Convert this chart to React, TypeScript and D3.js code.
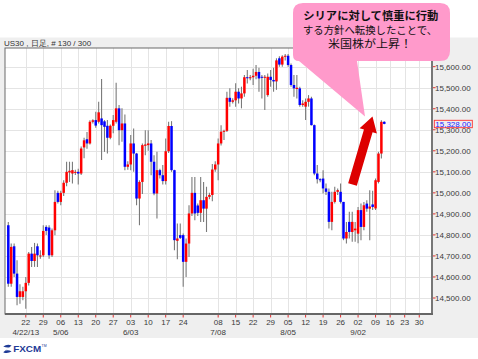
import React from 'react';
import * as d3 from 'd3';

// ---- data (US30 daily, 130 bars) ----
const opens = [
  14846, 14568, 14746, 14616, 14505, 14505, 14532, 14572, 14711, 14676,
  14746, 14700, 14703, 14838, 14835, 14703, 14822, 15000, 14957, 15000,
  15048, 15097, 15092, 15095, 15100, 15092, 15216, 15255, 15235, 15338,
  15346, 15338, 15354, 15340, 15319, 15262, 15319, 15338, 15402, 15298,
  15330, 15124, 15135, 15235, 15187, 14973, 15052, 15224, 15227, 15235,
  15148, 14997, 15108, 15084, 15056, 15198, 15318, 15108, 14772, 14799,
  14799, 14672, 14759, 14902, 15000, 14940, 14905, 14965, 14925, 14981,
  14990, 15111, 15135, 15235, 15291, 15295, 15452, 15433, 15440, 15481,
  15449, 15473, 15550, 15545, 15550, 15557, 15575, 15552, 15548, 15465,
  15552, 15537, 15530, 15640, 15610, 15648, 15652, 15608, 15513, 15494,
  15497, 15418, 15410, 15433, 15449, 15322, 15092, 15065, 15068, 15021,
  15005, 14862, 14957, 15005, 15005, 14957, 14783, 14862, 14814, 14822,
  14806, 14918, 14838, 14949, 14925, 14945, 14926, 15052, 15187, 15338,
];
const highs = [
  14862, 14759, 14759, 14680, 14565, 14553, 14600, 14719, 14743, 14762,
  14759, 14727, 14846, 14846, 14846, 14830, 15013, 15010, 15010, 15060,
  15148, 15148, 15148, 15110, 15115, 15220, 15262, 15290, 15345, 15350,
  15386, 15433, 15541, 15346, 15346, 15325, 15370, 15524, 15418, 15402,
  15373, 15150, 15275, 15306, 15190, 15060, 15235, 15298, 15298, 15251,
  15179, 15195, 15115, 15132, 15259, 15338, 15341, 15110, 14854, 14854,
  14807, 14783, 14941, 15076, 15076, 14950, 15076, 15052, 15029, 15000,
  15137, 15150, 15259, 15322, 15300, 15481, 15497, 15450, 15521, 15497,
  15505, 15560, 15584, 15560, 15590, 15608, 15595, 15560, 15560, 15568,
  15584, 15595, 15640, 15650, 15655, 15660, 15660, 15615, 15560, 15560,
  15505, 15440, 15449, 15465, 15457, 15325, 15132, 15070, 15108, 15045,
  15021, 15005, 15029, 15021, 15045, 14957, 14862, 14910, 14910, 14862,
  14933, 14949, 14957, 14965, 15013, 15010, 15068, 15195, 15345, 15340,
];
const lows = [
  14553, 14553, 14600, 14465, 14473, 14489, 14449, 14560, 14648, 14648,
  14648, 14687, 14695, 14800, 14687, 14695, 14798, 14949, 14941, 14985,
  15032, 15052, 15044, 15085, 15040, 15085, 15165, 15210, 15230, 15330,
  15310, 15330, 15156, 15195, 15187, 15255, 15283, 15330, 15227, 15243,
  15108, 15110, 15108, 15100, 14941, 14846, 14995, 15179, 15200, 15084,
  14989, 14878, 15068, 15040, 15040, 15190, 15100, 14727, 14684, 14780,
  14553, 14600, 14695, 14890, 14870, 14890, 14862, 14862, 14814, 14970,
  14960, 15100, 15060, 15225, 15251, 15290, 15410, 15425, 15410, 15425,
  15402, 15457, 15520, 15535, 15513, 15540, 15481, 15449, 15394, 15457,
  15505, 15481, 15490, 15600, 15600, 15630, 15600, 15505, 15457, 15449,
  15410, 15410, 15346, 15410, 15320, 15084, 15045, 15050, 14997, 14990,
  14830, 14822, 14949, 14990, 14949, 14775, 14759, 14783, 14767, 14767,
  14760, 14775, 14822, 14910, 14775, 14918, 14918, 15045, 15164, 15326,
];
const closes = [
  14568, 14743, 14616, 14505, 14532, 14532, 14572, 14711, 14676, 14711,
  14703, 14702, 14819, 14819, 14703, 14822, 14957, 14957, 15000, 15048,
  15100, 15105, 15108, 15100, 15092, 15211, 15250, 15235, 15338, 15345,
  15320, 15383, 15322, 15314, 15262, 15319, 15346, 15402, 15298, 15330,
  15124, 15135, 15235, 15187, 14973, 15052, 15227, 15230, 15235, 15148,
  14997, 15108, 15084, 15056, 15198, 15318, 15108, 14775, 14783, 14786,
  14672, 14759, 14902, 15000, 14902, 14905, 14965, 14925, 14981, 14990,
  15111, 15135, 15235, 15291, 15295, 15452, 15433, 15440, 15481, 15449,
  15473, 15550, 15545, 15550, 15557, 15575, 15544, 15548, 15552, 15552,
  15537, 15530, 15630, 15610, 15648, 15652, 15608, 15513, 15497, 15500,
  15418, 15425, 15433, 15449, 15322, 15092, 15065, 15060, 15021, 15005,
  14862, 14957, 15005, 15013, 14957, 14783, 14814, 14814, 14862, 14830,
  14918, 14838, 14941, 14925, 14935, 14933, 15060, 15187, 15338, 15328,
];

const priceTicks = [15600, 15500, 15400, 15300, 15200, 15100, 15000, 14900, 14800, 14700, 14600, 14500];
const dayTickBars = [6, 12, 18, 24, 30, 36, 42, 48, 54, 60, 72, 78, 84, 90, 96, 102, 108, 114, 120, 126, 131, 136, 141];
const dayTickLabels = ['22', '29', '06', '13', '20', '27', '03', '10', '17', '24', '08', '15', '22', '29', '05', '12', '19', '26', '02', '09', '16', '23', '30'];
const monthBars = [6, 18, 42, 72, 96, 120];
const monthLabels = ['4/22/13', '5/06', '6/03', '7/08', '8/05', '9/02'];
const lastPrice = 15328;

const headerText = 'US30 , 日足, # 130 / 300';
const calloutLines = ['シリアに対して慎重に行動', 'する方針へ転換したことで、', '米国株が上昇！'];

const AX = '"Liberation Sans", Arial, sans-serif';
const JP = '"Noto Sans CJK JP", "Noto Sans CJK SC", sans-serif';

export default function App() {
  const W = 478, H = 359;
  const L = 5, R = 432, T = 48, B = 314;

  const x = d3.scaleLinear().domain([0, 129]).range([8.3, 384.3]);
  const y = d3.scaleLinear().domain([14500, 15600]).range([298, 66.7]);
  const fmt = d3.format(',.2f');
  const bodyW = 2.5;

  const bars = d3.range(opens.length).map((i) => ({
    i, o: opens[i], h: highs[i], l: lows[i], c: closes[i],
  }));

  // arrow geometry
  const aB: [number, number] = [352.5, 184.5];
  const aT: [number, number] = [372.5, 116.5];
  const dx = aT[0] - aB[0], dy = aT[1] - aB[1];
  const len = Math.hypot(dx, dy);
  const ux = dx / len, uy = dy / len;
  const nx = -uy, ny = ux;
  const headLen = 15, headHW = 9, shaftHW = 4.5;
  const hb = [aT[0] - ux * headLen, aT[1] - uy * headLen];
  const arrowPts = [
    [aB[0] + nx * shaftHW, aB[1] + ny * shaftHW],
    [hb[0] + nx * shaftHW, hb[1] + ny * shaftHW],
    [hb[0] + nx * headHW, hb[1] + ny * headHW],
    aT,
    [hb[0] - nx * headHW, hb[1] - ny * headHW],
    [hb[0] - nx * shaftHW, hb[1] - ny * shaftHW],
    [aB[0] - nx * shaftHW, aB[1] - ny * shaftHW],
  ].map((p) => p.join(',')).join(' ');

  const calloutPath =
    'M303,3 H440 Q450,3 450,13 V51 Q450,61 440,61 H357 L365,116.5 L299,61 Q293,61 293,55 V13 Q293,3 303,3 Z';

  return (
    <svg width={W} height={H} style={{ position: 'absolute', left: 0, top: 0, background: '#ffffff' }}>
      <defs>
        <clipPath id="plotClip">
          <rect x={L} y={T} width={R - L} height={B - T} />
        </clipPath>
      </defs>
      <rect x={0} y={0} width={W} height={H} fill="#ffffff" />
      <rect x={0} y={37.5} width={W} height={300.5} fill="#efefef" />
      <text x={4} y={45.6} fontFamily={AX} fontSize={8} fill="#333">{headerText}</text>

      <rect x={L} y={T} width={R - L} height={B - T} fill="#ffffff" />
      {/* grid */}
      <g stroke="#e4e4e4" strokeWidth={1}>
        {priceTicks.map((p) => (
          <line key={'gy' + p} x1={L} x2={R} y1={Math.round(y(p)) + 0.5} y2={Math.round(y(p)) + 0.5} />
        ))}
        {dayTickBars.map((b, k) => (
          <line key={'gx' + k} x1={Math.round(x(b)) + 0.5} x2={Math.round(x(b)) + 0.5} y1={T} y2={B} />
        ))}
      </g>

      {/* candles */}
      <g clipPath="url(#plotClip)">
        {bars.map((d) => {
          const cx = x(d.i);
          const top = y(Math.max(d.o, d.c));
          const bot = y(Math.min(d.o, d.c));
          const col = d.c > d.o ? '#ff0000' : d.c < d.o ? '#0000ff' : '#000000';
          return (
            <g key={d.i}>
              <line x1={cx} x2={cx} y1={y(d.h)} y2={y(d.l)} stroke="#7a7a7a" strokeWidth={1.1} />
              <rect x={cx - bodyW / 2} y={top} width={bodyW} height={Math.max(1, bot - top)} fill={col} />
            </g>
          );
        })}
      </g>

      {/* frame */}
      <rect x={L} y={T} width={R - L} height={B - T} fill="none" stroke="#6a6a6a" strokeWidth={1} />
      <line x1={R} x2={R} y1={T} y2={B + 1} stroke="#777" strokeWidth={2} />
      <line x1={L} x2={R + 1} y1={B} y2={B} stroke="#666" strokeWidth={2} />

      {/* y axis */}
      {priceTicks.map((p) => (
        <g key={'yl' + p}>
          <line x1={R + 1} x2={R + 3.5} y1={y(p)} y2={y(p)} stroke="#e03030" strokeWidth={1} />
          <text x={435} y={y(p) + 2.9} fontFamily={AX} fontSize={8} fill="#3a3a3a">{fmt(p)}</text>
        </g>
      ))}
      <rect x={434.3} y={y(lastPrice) - 3.6} width={38} height={7.4} fill="none" stroke="#ff3030" strokeWidth={0.9} />
      <text x={435.3} y={y(lastPrice) + 2.9} fontFamily={AX} fontSize={8} fill="#2222ff">{fmt(lastPrice)}</text>

      {/* x axis */}
      {dayTickBars.map((b, k) => (
        <g key={'xl' + k}>
          <line x1={x(b)} x2={x(b)} y1={B + 1} y2={B + 3.5} stroke="#e03030" strokeWidth={1} />
          <text x={x(b)} y={324.6} textAnchor="middle" fontFamily={AX} fontSize={8} fill="#3a3a3a">{dayTickLabels[k]}</text>
        </g>
      ))}
      {monthBars.map((b, k) => (
        <text key={'ml' + k} x={x(b)} y={334.6} textAnchor="middle" fontFamily={AX} fontSize={8} fill="#3a3a3a">{monthLabels[k]}</text>
      ))}

      {/* callout */}
      <path d={calloutPath} fill="#ff9acb" />
      <text x={370.8} y={20.4} textAnchor="middle" fontFamily={JP} fontWeight="bold" fontSize={10.8}
        textLength={135} lengthAdjust="spacingAndGlyphs" fill="#111">{calloutLines[0]}</text>
      <text x={370} y={34.2} textAnchor="middle" fontFamily={JP} fontSize={10.6} textLength={134}
        lengthAdjust="spacingAndGlyphs" fill="#111">{calloutLines[1]}</text>
      <text x={370} y={48.2} textAnchor="middle" fontFamily={JP} fontSize={11} textLength={84}
        lengthAdjust="spacingAndGlyphs" fill="#111">{calloutLines[2]}</text>

      {/* arrow */}
      <polygon points={arrowPts} fill="#dd0000" />

      {/* logo */}
      <g>
        <path d="M3.2,346.4 Q7.5,343.8 11.6,345.6 L5.6,350.6 Q8.6,349.6 11.6,351.6 Q7.2,354.2 3.2,352.2 L9.2,347.4 Q6.2,347.8 3.2,346.4 Z" fill="#1e3a96" />
        <text x={13.2} y={352.4} fontFamily={AX} fontWeight="bold" fontSize={9.2} fill="#1e3a96" textLength={28} lengthAdjust="spacingAndGlyphs">FXCM</text>
        <text x={41.6} y={346.5} fontFamily={AX} fontSize={3.5} fill="#1e3a96">TM</text>
      </g>
    </svg>
  );
}
